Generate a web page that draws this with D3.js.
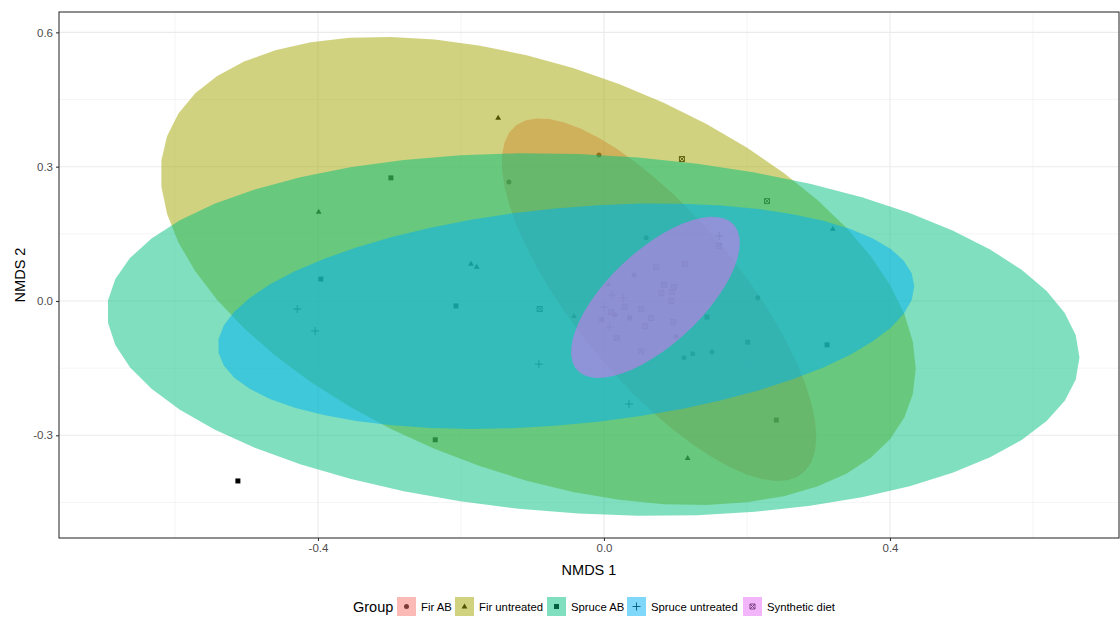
<!DOCTYPE html>
<html>
<head>
<meta charset="utf-8">
<script src="https://cdn.jsdelivr.net/npm/d3@7"></script>
<style>
  body { margin: 0; background: #fff; }
  text { font-family: "Liberation Sans", Arial, sans-serif; }
</style>
</head>
<body>
<div id="chart"></div>
<script>
// groups, in legend order
var groups = ["Fir AB", "Fir untreated", "Spruce AB", "Spruce untreated", "Synthetic diet"];
var groupColors = ["#F8766D", "#A3A500", "#00BF7D", "#00B0F6", "#E76BF3"];
var groupShapes = ["circle", "triangle", "square", "plus", "squarecross"];

// NMDS scores, per group
var firAB_x = [-0.007, -0.133, 0.059, 0.042, 0.015, 0.101, 0.112, 0.124, 0.151, 0.215];
var firAB_y = [0.326, 0.266, 0.141, 0.058, -0.031, -0.080, -0.127, -0.118, -0.114, 0.007];
var firUn_x = [-0.148, -0.399, -0.186, -0.178, -0.042, 0.006, 0.117, 0.320];
var firUn_y = [0.409, 0.199, 0.083, 0.076, -0.034, 0.038, -0.351, 0.161];
var spruceAB_x = [-0.298, -0.396, -0.207, -0.236, 0.241, 0.312, 0.201, 0.144, -0.003, 0.036, -0.512];
var spruceAB_y = [0.275, 0.049, -0.011, -0.310, -0.266, -0.098, -0.092, -0.036, -0.042, -0.038, -0.402];
var spruceUn_x = [-0.429, -0.404, -0.091, 0.035, 0.161, 0.011, 0.027, 0.000, 0.008];
var spruceUn_y = [-0.018, -0.067, -0.141, -0.230, 0.145, 0.013, 0.007, -0.013, -0.058];
var synth_x = [0.109, 0.228, 0.161, 0.113, 0.073, 0.084, 0.098, 0.095, 0.080, 0.094, 0.052, 0.029, 0.010, 0.066, 0.057, 0.097, 0.018, 0.052, -0.090];
var synth_y = [0.317, 0.223, 0.123, 0.083, 0.076, 0.036, 0.031, 0.020, 0.018, 0.000, -0.018, -0.013, -0.025, -0.038, -0.056, -0.047, -0.083, -0.112, -0.018];

// confidence ellipses: centre, half extents along x / y, and correlation
var ellCx  = [0.077, -0.092, -0.015, -0.053, 0.072];
var ellCy  = [0.003, 0.067, -0.075, -0.034, 0.008];
var ellSx  = [0.220, 0.528, 0.680, 0.487, 0.118];
var ellSy  = [0.405, 0.523, 0.405, 0.252, 0.180];
var ellRho = [-0.758, -0.417, -0.127, 0.265, 0.677];

var xMajor = [-0.4, 0.0, 0.4], xMinor = [-0.6, -0.2, 0.2, 0.6];
var yMajor = [-0.3, 0.0, 0.3, 0.6], yMinor = [-0.45, -0.15, 0.15, 0.45];

var W = 1120, H = 619,
    panel = {left: 59, right: 1119, top: 12, bottom: 538};

var xs = [firAB_x, firUn_x, spruceAB_x, spruceUn_x, synth_x],
    ys = [firAB_y, firUn_y, spruceAB_y, spruceUn_y, synth_y];

var points = [];
xs.forEach(function (arr, g) {
  arr.forEach(function (v, i) { points.push({g: g, x: v, y: ys[g][i]}); });
});

var x = d3.scaleLinear().domain([-0.7622, 0.7203]).range([panel.left, panel.right]);
var y = d3.scaleLinear().domain([-0.5294, 0.6455]).range([panel.bottom, panel.top]);

var svg = d3.select("#chart").append("svg")
    .attr("width", W)
    .attr("height", H);

svg.append("rect").attr("width", W).attr("height", H).attr("fill", "#fff");

var plot = svg.append("g");

plot.append("defs").append("clipPath").attr("id", "clip")
  .append("rect")
    .attr("x", panel.left).attr("y", panel.top)
    .attr("width", panel.right - panel.left)
    .attr("height", panel.bottom - panel.top);

// grid
plot.selectAll(".xminor").data(xMinor).enter().append("line")
    .attr("x1", function (d) { return x(d); }).attr("x2", function (d) { return x(d); })
    .attr("y1", panel.top).attr("y2", panel.bottom)
    .attr("stroke", "#EBEBEB").attr("stroke-width", 0.55);
plot.selectAll(".yminor").data(yMinor).enter().append("line")
    .attr("y1", function (d) { return y(d); }).attr("y2", function (d) { return y(d); })
    .attr("x1", panel.left).attr("x2", panel.right)
    .attr("stroke", "#EBEBEB").attr("stroke-width", 0.55);
plot.selectAll(".xmajor").data(xMajor).enter().append("line")
    .attr("x1", function (d) { return x(d); }).attr("x2", function (d) { return x(d); })
    .attr("y1", panel.top).attr("y2", panel.bottom)
    .attr("stroke", "#EBEBEB").attr("stroke-width", 1.1);
plot.selectAll(".ymajor").data(yMajor).enter().append("line")
    .attr("y1", function (d) { return y(d); }).attr("y2", function (d) { return y(d); })
    .attr("x1", panel.left).attr("x2", panel.right)
    .attr("stroke", "#EBEBEB").attr("stroke-width", 1.1);

function drawShape (sel, shape, size) {
  var s = size;
  if (shape === "circle") {
    sel.append("circle").attr("r", s * 0.5).attr("fill", "#000");
  } else if (shape === "triangle") {
    sel.append("path").attr("d", "M0," + (-s * 0.62) + "L" + (s * 0.58) + "," + (s * 0.38) + "L" + (-s * 0.58) + "," + (s * 0.38) + "Z")
      .attr("fill", "#000");
  } else if (shape === "square") {
    sel.append("rect").attr("x", -s / 2).attr("y", -s / 2).attr("width", s).attr("height", s).attr("fill", "#000");
  } else if (shape === "plus") {
    sel.append("path").attr("d", "M" + (-s * 0.8) + ",0H" + (s * 0.8) + "M0," + (-s * 0.8) + "V" + (s * 0.8))
      .attr("stroke", "#000").attr("stroke-width", 0.9).attr("fill", "none");
  } else {
    var h = s * 0.5;
    sel.append("path")
      .attr("d", "M" + (-h) + "," + (-h) + "H" + h + "V" + h + "H" + (-h) + "Z" +
                 "M" + (-h) + "," + (-h) + "L" + h + "," + h + "M" + h + "," + (-h) + "L" + (-h) + "," + h)
      .attr("stroke", "#000").attr("stroke-width", 0.9).attr("fill", "none");
  }
}

var body = plot.append("g").attr("clip-path", "url(#clip)");

// points go under the ellipses
body.selectAll(".pt").data(points).enter().append("g")
    .attr("class", "pt")
    .attr("transform", function (d) { return "translate(" + x(d.x) + "," + y(d.y) + ")"; })
    .each(function (d) { drawShape(d3.select(this), groupShapes[d.g], 5); });

function ellipsePts (g) {
  var phi = Math.acos(ellRho[g]), out = [];
  for (var i = 0; i < 51; i++) {
    var t = i / 51 * 2 * Math.PI;
    out.push([ellCx[g] + ellSx[g] * Math.cos(t), ellCy[g] + ellSy[g] * Math.cos(t - phi)]);
  }
  return out;
}

var line = d3.line()
    .x(function (d) { return x(d[0]); })
    .y(function (d) { return y(d[1]); })
    .curve(d3.curveLinearClosed);

body.selectAll(".ell").data(groups).enter().append("path")
    .attr("class", "ell")
    .attr("d", function (d, i) { return line(ellipsePts(i)); })
    .attr("fill", function (d, i) { return groupColors[i]; })
    .attr("fill-opacity", 0.5);

// border
plot.append("rect")
    .attr("x", panel.left).attr("y", panel.top)
    .attr("width", panel.right - panel.left).attr("height", panel.bottom - panel.top)
    .attr("fill", "none").attr("stroke", "#333333").attr("stroke-width", 1.1);

// axes, plain hyphen for negatives like R does
var fmt = function (d) { return d3.format(".1f")(d).replace("\u2212", "-"); };
var xAxis = d3.axisBottom(x).tickValues(xMajor).tickSize(3).tickPadding(3).tickFormat(fmt);
var yAxis = d3.axisLeft(y).tickValues(yMajor).tickSize(3).tickPadding(3).tickFormat(fmt);

var gx = svg.append("g").attr("transform", "translate(0," + panel.bottom + ")").call(xAxis);
var gy = svg.append("g").attr("transform", "translate(" + panel.left + ",0)").call(yAxis);
[gx, gy].forEach(function (g) {
  g.select(".domain").remove();
  g.selectAll(".tick line").attr("stroke", "#333333").attr("stroke-width", 1.1);
  g.selectAll(".tick text").attr("fill", "#4D4D4D").style("font-size", "11.5px")
    .style("font-family", "'Liberation Sans', Arial, sans-serif");
});

svg.append("text")
    .attr("x", (panel.left + panel.right) / 2).attr("y", 575)
    .attr("text-anchor", "middle").style("font-size", "14.5px").text("NMDS 1");
svg.append("text")
    .attr("transform", "translate(25," + (panel.top + panel.bottom) / 2 + ") rotate(-90)")
    .attr("text-anchor", "middle").style("font-size", "14.5px").text("NMDS 2");

// legend
var legend = svg.append("g");
legend.append("text").attr("x", 353).attr("y", 612).style("font-size", "14.5px").text("Group");
var keyX = [397, 455, 547, 627, 743];
var key = legend.selectAll(".key").data(groups).enter().append("g")
    .attr("class", "key")
    .attr("transform", function (d, i) { return "translate(" + keyX[i] + ",597)"; });
key.append("g").attr("transform", "translate(9.5,9.5)")
    .each(function (d, i) { drawShape(d3.select(this), groupShapes[i], 5); });
key.append("rect").attr("width", 19).attr("height", 19)
    .attr("fill", function (d, i) { return groupColors[i]; })
    .attr("fill-opacity", 0.5);
key.append("text").attr("x", 24).attr("y", 14)
    .attr("fill", "#000").style("font-size", "11.3px")
    .text(function (d) { return d; });
</script>
</body>
</html>
